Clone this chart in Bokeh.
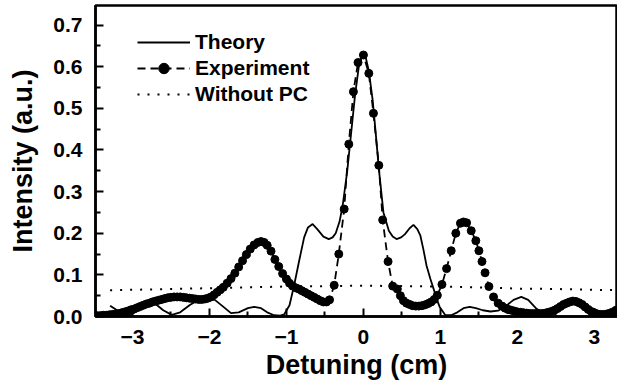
from bokeh.plotting import figure
from bokeh.models import Legend, LegendItem, FixedTicker, Range1d
from bokeh.embed import file_html
from bokeh.resources import INLINE

# ---- data ----
theory_x = [-3.29, -3.20, -3.10, -3.03, -2.95, -2.87, -2.79, -2.70, -2.60, -2.49,
            -2.38, -2.25, -2.12, -2.02, -1.93, -1.83, -1.72, -1.62, -1.50, -1.42,
            -1.33, -1.25, -1.16, -1.08, -1.03, -0.96, -0.90, -0.83, -0.77, -0.72,
            -0.66, -0.60, -0.52, -0.45, -0.40, -0.36, -0.31, -0.27, -0.21, -0.16,
            -0.11, -0.06, -0.02, 0.00, 0.03, 0.07, 0.12, 0.16, 0.20, 0.26,
            0.33, 0.38, 0.43, 0.49, 0.54, 0.60, 0.65, 0.70, 0.74, 0.78,
            0.82, 0.87, 0.91, 0.95, 0.99, 1.06, 1.14, 1.22, 1.30, 1.38,
            1.46, 1.55, 1.65, 1.75, 1.85, 1.95, 2.05, 2.14, 2.24, 2.37,
            2.50, 2.62, 2.74, 2.86, 2.98, 3.10, 3.22, 3.34, 3.40]
theory_y = [0.026, 0.015, 0.006, 0.003, 0.012, 0.027, 0.035, 0.030, 0.015, 0.004,
            0.010, 0.028, 0.042, 0.045, 0.040, 0.025, 0.008, 0.010, 0.020, 0.023,
            0.020, 0.010, 0.003, 0.002, 0.005, 0.027, 0.075, 0.138, 0.190, 0.214,
            0.222, 0.210, 0.192, 0.186, 0.190, 0.200, 0.228, 0.266, 0.350, 0.440,
            0.530, 0.600, 0.625, 0.630, 0.622, 0.590, 0.520, 0.440, 0.355, 0.250,
            0.206, 0.192, 0.186, 0.190, 0.198, 0.212, 0.220, 0.210, 0.194, 0.160,
            0.122, 0.090, 0.067, 0.043, 0.023, 0.004, 0.003, 0.010, 0.020, 0.023,
            0.020, 0.015, 0.012, 0.014, 0.025, 0.040, 0.047, 0.040, 0.020, 0.003,
            0.010, 0.025, 0.033, 0.025, 0.008, 0.003, 0.012, 0.022, 0.025]

exp_x = [-3.46, -3.42, -3.38, -3.34, -3.30, -3.26, -3.22, -3.18, -3.14, -3.10,
         -3.06, -3.02, -2.98, -2.94, -2.90, -2.86, -2.82, -2.78, -2.74, -2.70,
         -2.66, -2.62, -2.58, -2.54, -2.50, -2.46, -2.42, -2.38, -2.34, -2.30,
         -2.26, -2.22, -2.18, -2.14, -2.10, -2.06, -2.02, -1.98, -1.94, -1.90,
         -1.86, -1.82, -1.77, -1.72, -1.67, -1.62, -1.57, -1.52, -1.47, -1.42,
         -1.37, -1.33, -1.29, -1.25, -1.20, -1.15, -1.10, -1.05, -1.00, -0.96,
         -0.92, -0.88, -0.84, -0.80, -0.76, -0.72, -0.68, -0.64, -0.60, -0.56,
         -0.52, -0.48, -0.44, -0.38, -0.32, -0.25, -0.19, -0.13, -0.07, 0.00,
         0.07, 0.13, 0.20, 0.25, 0.32, 0.38, 0.44, 0.48, 0.52, 0.56,
         0.60, 0.64, 0.68, 0.72, 0.76, 0.80, 0.84, 0.88, 0.92, 0.96,
         1.02, 1.08, 1.14, 1.20, 1.26, 1.30, 1.34, 1.40, 1.46, 1.50,
         1.54, 1.58, 1.63, 1.69, 1.75, 1.80, 1.84, 1.88, 1.92, 1.96,
         2.00, 2.04, 2.08, 2.12, 2.16, 2.20, 2.24, 2.28, 2.32, 2.36,
         2.40, 2.44, 2.48, 2.52, 2.56, 2.60, 2.64, 2.68, 2.72, 2.76,
         2.80, 2.84, 2.88, 2.92, 2.96, 3.00, 3.04, 3.08, 3.12, 3.16,
         3.20, 3.24, 3.28, 3.32, 3.36, 3.40]
exp_y = [0.002, 0.002, 0.003, 0.003, 0.004, 0.005, 0.006, 0.007, 0.009, 0.011,
         0.013, 0.016, 0.018, 0.021, 0.024, 0.027, 0.030, 0.032, 0.035, 0.037,
         0.039, 0.041, 0.043, 0.045, 0.046, 0.047, 0.047, 0.047, 0.046, 0.045,
         0.044, 0.043, 0.042, 0.041, 0.041, 0.042, 0.044, 0.047, 0.052, 0.058,
         0.064, 0.070, 0.080, 0.091, 0.104, 0.119, 0.134, 0.149, 0.162, 0.172,
         0.178, 0.180, 0.178, 0.171, 0.157, 0.137, 0.120, 0.103, 0.090, 0.080,
         0.073, 0.069, 0.066, 0.062, 0.058, 0.054, 0.050, 0.046, 0.042, 0.038,
         0.035, 0.035, 0.040, 0.075, 0.150, 0.258, 0.414, 0.540, 0.610, 0.628,
         0.584, 0.488, 0.363, 0.232, 0.132, 0.073, 0.066, 0.050, 0.038, 0.032,
         0.029, 0.026, 0.025, 0.025, 0.026, 0.028, 0.031, 0.035, 0.041, 0.051,
         0.077, 0.115, 0.158, 0.200, 0.224, 0.227, 0.225, 0.206, 0.182, 0.158,
         0.132, 0.105, 0.072, 0.047, 0.032, 0.025, 0.020, 0.017, 0.015, 0.013,
         0.011, 0.010, 0.009, 0.008, 0.007, 0.007, 0.007, 0.007, 0.007, 0.008,
         0.010, 0.012, 0.015, 0.019, 0.024, 0.029, 0.032, 0.035, 0.037, 0.036,
         0.033, 0.029, 0.023, 0.017, 0.012, 0.009, 0.006, 0.005, 0.005, 0.006,
         0.008, 0.011, 0.015, 0.019, 0.023, 0.027]

nopc_x = [-3.29, -2.5, -2.0, -1.5, -1.0, -0.5, 0.0, 0.5, 1.0, 1.5, 2.0, 2.5, 3.0, 3.4]
nopc_y = [0.063, 0.066, 0.068, 0.070, 0.072, 0.073, 0.074, 0.073, 0.072, 0.070,
          0.067, 0.066, 0.064, 0.063]

x_ticks = [-3, -2, -1, 0, 1, 2, 3]
x_tick_labels = ["\u22123", "\u22122", "\u22121", "0", "1", "2", "3"]
x_minor = [-2.5, -1.5, -0.5, 0.5, 1.5, 2.5]
y_ticks = [0.0, 0.1, 0.2, 0.3, 0.4, 0.5, 0.6, 0.7]
y_tick_labels = ["0.0", "0.1", "0.2", "0.3", "0.4", "0.5", "0.6", "0.7"]
y_minor = [0.05, 0.15, 0.25, 0.35, 0.45, 0.55, 0.65]

INK = "black"
FONT = "Liberation Sans"
Y_TOP = 0.747

p = figure(width=617, height=382,
           x_range=Range1d(-3.48, 3.30), y_range=Range1d(0.0, Y_TOP),
           output_backend="svg", toolbar_location=None,
           min_border_left=95, min_border_right=0,
           min_border_top=5, min_border_bottom=64)
p.outline_line_color = INK
p.outline_line_width = 2.5
p.xgrid.visible = False
p.ygrid.visible = False

r_theory = p.line(theory_x, theory_y, line_color=INK, line_width=1.8)
r_exp_line = p.line(exp_x, exp_y, line_color=INK, line_width=1.8, line_dash="8 5")
r_exp_pts = p.scatter(exp_x, exp_y, size=8, fill_color=INK, line_color=INK)
r_nopc = p.line(nopc_x, nopc_y, line_color=INK, line_width=2, line_dash="2 8")

bottom = p.below[0]
left = p.left[0]

for ax in (bottom, left):
    ax.axis_line_width = 2.5
    ax.axis_line_color = INK
    ax.major_tick_line_color = INK
    ax.major_tick_line_width = 2
    ax.minor_tick_line_color = INK
    ax.minor_tick_line_width = 2
    ax.major_tick_in = 8
    ax.major_tick_out = 0
    ax.minor_tick_in = 5
    ax.minor_tick_out = 0
    ax.major_label_text_font = FONT
    ax.major_label_text_font_style = "bold"
    ax.major_label_text_font_size = "21px"
    ax.major_label_text_color = INK
    ax.axis_label_text_font = FONT
    ax.axis_label_text_font_style = "bold"
    ax.axis_label_text_font_size = "27px"
    ax.axis_label_text_color = INK

bottom.ticker = FixedTicker(ticks=x_ticks, minor_ticks=x_minor)
bottom.major_label_overrides = {t: l for t, l in zip(x_ticks, x_tick_labels)}
left.ticker = FixedTicker(ticks=y_ticks, minor_ticks=y_minor)
left.major_label_overrides = {t: l for t, l in zip(y_ticks, y_tick_labels)}
bottom.axis_label = "Detuning (cm)"
left.axis_label = "Intensity (a.u.)"
bottom.major_label_standoff = 13
left.major_label_standoff = 13
bottom.axis_label_standoff = 3
left.axis_label_standoff = 12

legend = Legend(items=[LegendItem(label="Theory", renderers=[r_theory]),
                       LegendItem(label="Experiment", renderers=[r_exp_line, r_exp_pts]),
                       LegendItem(label="Without PC", renderers=[r_nopc])],
                location=(42, 209), padding=0, margin=0, spacing=0,
                glyph_width=53, glyph_height=26, label_height=26, label_standoff=5,
                border_line_color=None, background_fill_alpha=0,
                label_text_font=FONT, label_text_font_style="bold",
                label_text_font_size="21px", label_text_color=INK)
p.add_layout(legend)

open("out.html", "w").write(file_html(p, INLINE))
